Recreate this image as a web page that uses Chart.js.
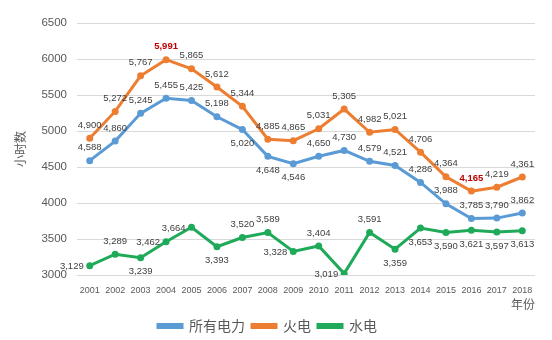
<!DOCTYPE html>
<html>
<head>
<meta charset="utf-8">
<script src="https://cdn.jsdelivr.net/npm/chart.js@4/dist/chart.umd.min.js"></script>
<style>
  html, body { margin: 0; padding: 0; background: #fff; }
  #wrap { width: 552px; height: 340px; }
</style>
</head>
<body>
<div id="wrap"><canvas id="chart" width="552" height="340"></canvas></div>
<script>
// years on the x axis
const years = ["2001","2002","2003","2004","2005","2006","2007","2008","2009",
  "2010","2011","2012","2013","2014","2015","2016","2017","2018"];

// utilization hours per series
const allPower = [4588, 4860, 5245, 5455, 5425, 5198, 5020, 4648, 4546,
  4650, 4730, 4579, 4521, 4286, 3988, 3785, 3790, 3862];
const thermal = [4900, 5272, 5767, 5991, 5865, 5612, 5344, 4885, 4865,
  5031, 5305, 4982, 5021, 4706, 4364, 4165, 4219, 4361];
const hydro = [3129, 3289, 3239, 3462, 3664, 3393, 3520, 3589, 3328,
  3404, 3019, 3591, 3359, 3653, 3590, 3621, 3597, 3613];

const yTicks = [3000, 3500, 4000, 4500, 5000, 5500, 6000, 6500];

// where each data label sits: a = above, b = below, l = left
const allPowerPos = ["a","a","a","a","a","a","b","b","b","a","a","a","a","a","a","a","a","a"];
const thermalPos  = ["a","a","a","a","a","a","a","a","a","a","a","a","a","a","a","a","a","a"];
const hydroPos    = ["l","a","b","l","l","b","a","a","l","a","l","a","b","b","b","b","b","b"];
// highlighted labels (min / max of thermal)
const thermalHot = [3, 15];

const labelFont = '9.5px "Liberation Sans", Arial, sans-serif';

function fmt(v) {
  return v.toLocaleString("en-US");
}

// draws the excel-like value labels next to each point
const valueLabels = {
  id: "valueLabels",
  afterDatasetsDraw(chart) {
    const ctx = chart.ctx;
    ctx.save();
    ctx.textBaseline = "middle";
    chart.data.datasets.forEach((ds, di) => {
      const meta = chart.getDatasetMeta(di);
      meta.data.forEach((pt, i) => {
        const p = ds.labelPos[i];
        let x = pt.x, y = pt.y;
        ctx.textAlign = "center";
        if (p === "a") y -= 13;
        else if (p === "b") y += 14;
        else { ctx.textAlign = "right"; x -= 6; y += 1; }
        const hot = ds.hot && ds.hot.includes(i);
        ctx.fillStyle = hot ? "#c00000" : "#404040";
        ctx.font = hot ? "bold " + labelFont : labelFont;
        ctx.fillText(fmt(ds.data[i]), x, y);
      });
    });
    ctx.restore();
  }
};

function series(label, data, color, pos, hot) {
  return {
    label,
    data,
    borderColor: color,
    backgroundColor: color,
    borderWidth: 3,
    pointRadius: 2,
    pointBackgroundColor: color,
    pointBorderColor: color,
    tension: 0,
    labelPos: pos,
    hot
  };
}

new Chart(document.getElementById("chart"), {
  type: "line",
  data: {
    labels: years,
    datasets: [
      series("所有电力", allPower, "#5b9bd5", allPowerPos),
      series("火电", thermal, "#ed7d31", thermalPos, thermalHot),
      series("水电", hydro, "#1faa59", hydroPos)
    ]
  },
  options: {
    responsive: false,
    animation: false,
    layout: { padding: { top: 23, right: 17, bottom: -3, left: 0 } },
    plugins: {
      legend: {
        position: "bottom",
        labels: {
          color: "#595959",
          font: { family: '"Noto Sans CJK SC", sans-serif', size: 14 },
          boxWidth: 24,
          boxHeight: 3,
          padding: 7
        }
      },
      tooltip: { enabled: false }
    },
    scales: {
      x: {
        offset: true,
        grid: { display: false },
        border: { display: false },
        ticks: {
          color: "#595959",
          font: { family: '"Liberation Sans", Arial, sans-serif', size: 9 },
          padding: 2,
          maxRotation: 0,
          autoSkip: false
        },
        title: {
          display: true,
          text: "年份",
          align: "end",
          color: "#595959",
          font: { family: '"Noto Sans CJK SC", sans-serif', size: 12 },
          padding: { top: 2, bottom: 0 }
        },
        afterFit: s => { s.height = 37; }
      },
      y: {
        min: 3000,
        max: 6500,
        afterBuildTicks: s => { s.ticks = yTicks.map(v => ({ value: v })); },
        grid: { color: "#d9d9d9", drawTicks: false },
        border: { display: false },
        ticks: {
          color: "#595959",
          font: { family: '"Liberation Sans", Arial, sans-serif', size: 11.5 },
          padding: 10,
          callback: v => String(v)
        },
        title: {
          display: true,
          text: "小时数",
          color: "#595959",
          font: { family: '"Noto Sans CJK SC", sans-serif', size: 12 },
          padding: { top: 13, bottom: 0 }
        },
        afterFit: s => { s.width = 77; }
      }
    }
  },
  plugins: [valueLabels]
});
</script>
</body>
</html>
